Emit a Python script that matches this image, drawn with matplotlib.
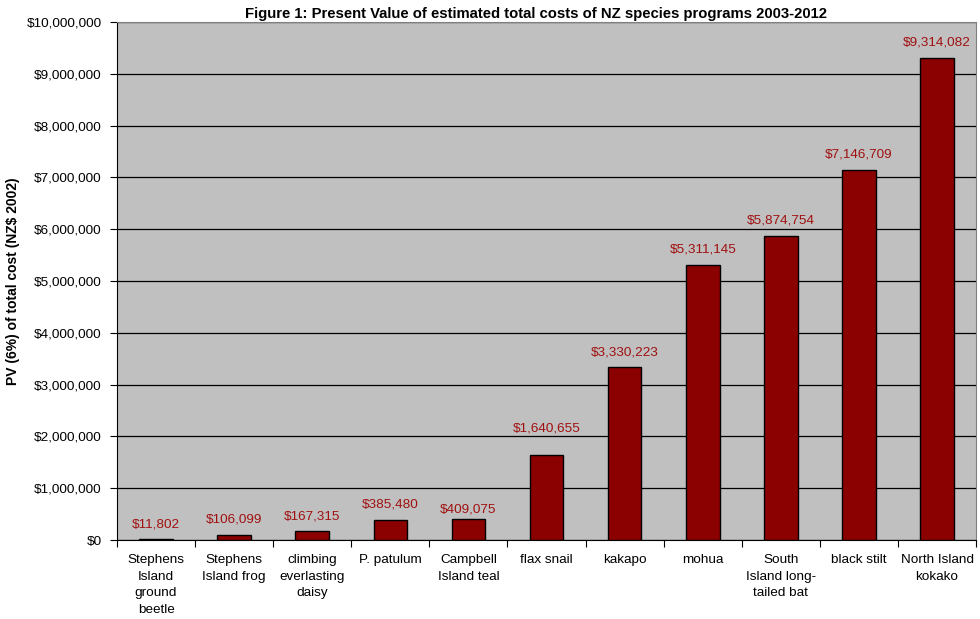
import matplotlib.pyplot as plt
from matplotlib.ticker import FuncFormatter, MultipleLocator

plt.rcParams['font.family'] = ['Liberation Sans', 'DejaVu Sans']

species = ['Stephens\nIsland\nground\nbeetle', 'Stephens\nIsland frog',
           'climbing\neverlasting\ndaisy', 'P. patulum', 'Campbell\nIsland teal',
           'flax snail', 'kakapo', 'mohua', 'South\nIsland long-\ntailed bat',
           'black stilt', 'North Island\nkokako']
pv_cost = [11802, 106099, 167315, 385480, 409075, 1640655,
           3330223, 5311145, 5874754, 7146709, 9314082]

# label distance above each bar top, in points (a couple were nudged by hand)
label_lift = [11, 11, 11, 11, 7, 19, 11, 11, 11, 11, 11]

bar_color = '#8B0000'
label_color = '#A01010'

fig = plt.figure(figsize=(9.8, 6.19), dpi=100)
ax = fig.add_axes([0.1194, 0.1276, 0.8766, 0.8369])
ax.set_facecolor('#C0C0C0')

x = range(len(species))
ax.bar(x, pv_cost, width=0.43, color=bar_color, edgecolor='black',
       linewidth=1, zorder=3)

for xi, v, lift in zip(x, pv_cost, label_lift):
    ax.annotate(f'${v:,.0f}', (xi, v), xytext=(0, lift), textcoords='offset points',
                ha='center', va='center', color=label_color, fontsize=9.7)

ax.set_xlim(-0.5, len(species) - 0.5)
ax.set_ylim(0, 10000000)
ax.yaxis.set_major_locator(MultipleLocator(1000000))
ax.yaxis.set_major_formatter(FuncFormatter(lambda v, _: f'${v:,.0f}'))
ax.grid(axis='y', color='black', linewidth=0.9, zorder=1)

# x ticks sit between categories, labels centred under bars
ax.set_xticks([i - 0.5 for i in range(len(species) + 1)])
ax.set_xticklabels([])
ax.set_xticks(list(x), minor=True)
ax.set_xticklabels(species, minor=True, fontsize=9.7, linespacing=1.52)
ax.tick_params(axis='x', which='minor', length=0, pad=10)
ax.tick_params(axis='x', which='major', length=5, direction='out', color='black')
ax.tick_params(axis='y', length=5, labelsize=9.7, color='black', pad=6)

for side in ['top', 'right']:
    ax.spines[side].set_color('#808080')
for side in ['left', 'bottom']:
    ax.spines[side].set_color('black')

ax.set_ylabel('PV (6%) of total cost (NZ$ 2002)', fontsize=10, fontweight='bold',
              labelpad=5)
ax.set_title('Figure 1: Present Value of estimated total costs of NZ species programs 2003-2012',
             fontsize=10.7, fontweight='bold', pad=3, x=0.488)

fig.savefig('out.png', dpi=100)
